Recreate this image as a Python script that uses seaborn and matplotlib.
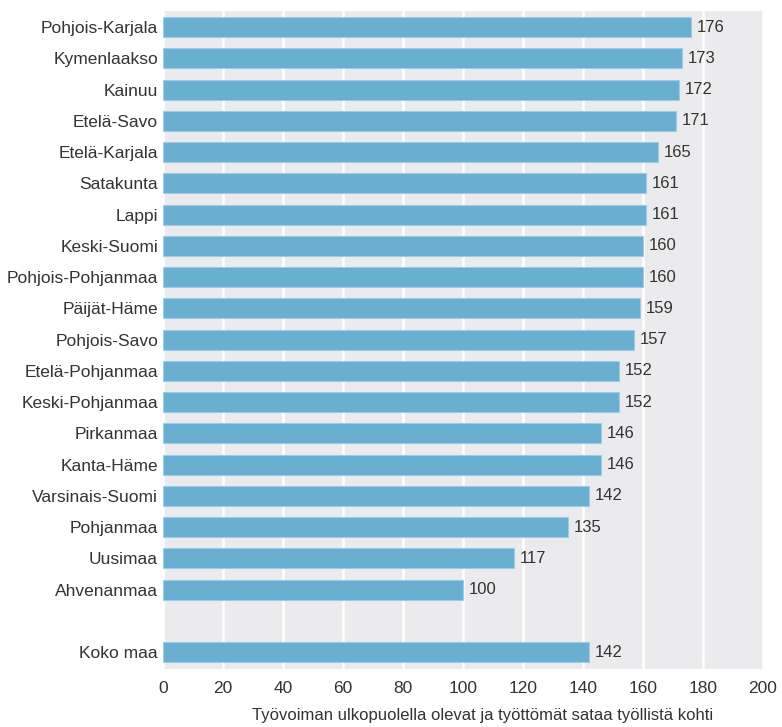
import pandas as pd
import matplotlib.pyplot as plt
import seaborn as sns

# Values
regions = ['Pohjois-Karjala', 'Kymenlaakso', 'Kainuu', 'Etelä-Savo', 'Etelä-Karjala',
           'Satakunta', 'Lappi', 'Keski-Suomi', 'Pohjois-Pohjanmaa', 'Päijät-Häme',
           'Pohjois-Savo', 'Etelä-Pohjanmaa', 'Keski-Pohjanmaa', 'Pirkanmaa', 'Kanta-Häme',
           'Varsinais-Suomi', 'Pohjanmaa', 'Uusimaa', 'Ahvenanmaa']
values = [176, 173, 172, 171, 165, 161, 161, 160, 160, 159, 157, 152, 152, 146, 146,
          142, 135, 117, 100]
total_label = 'Koko maa'
total_value = 142
x_ticks = [0, 20, 40, 60, 80, 100, 120, 140, 160, 180, 200]
x_label = 'Työvoiman ulkopuolella olevat ja työttömät sataa työllistä kohti'

df = pd.DataFrame({'alue': regions + [total_label], 'arvo': values + [total_value]})
order = regions + [' '] + [total_label]   # empty slot before the total

sns.set_theme(style='darkgrid', rc={
    'axes.facecolor': '#ebebed',
    'grid.color': 'white',
    'grid.linewidth': 1.8,
})
plt.rcParams['font.family'] = ['Liberation Sans', 'DejaVu Sans']
text_color = '#333333'

fig = plt.figure(figsize=(7.82, 7.27), dpi=100)
ax = fig.add_axes([0.2084, 0.0798, 0.7673, 0.9051])

sns.barplot(data=df, x='arvo', y='alue', order=order, orient='h',
            color='#68afd2', saturation=1, width=0.64,
            edgecolor='#9fcbe3', linewidth=0.8, ax=ax)

for c in ax.containers:
    ax.bar_label(c, fmt='%d', padding=4, fontsize=12, color=text_color)

ax.set_xlim(0, 200)
ax.set_ylim(20.54, -0.52)
ax.set_xticks(x_ticks)
ax.xaxis.grid(True)
ax.yaxis.grid(False)
ax.tick_params(axis='both', length=0, labelsize=12.5, labelcolor=text_color)
ax.tick_params(axis='x', pad=9)
ax.set_xlabel(x_label, fontsize=12, color=text_color, labelpad=8, x=0.533)
ax.set_ylabel('')
for s in ax.spines.values():
    s.set_visible(False)

plt.savefig('out.png', dpi=100)
plt.close()
